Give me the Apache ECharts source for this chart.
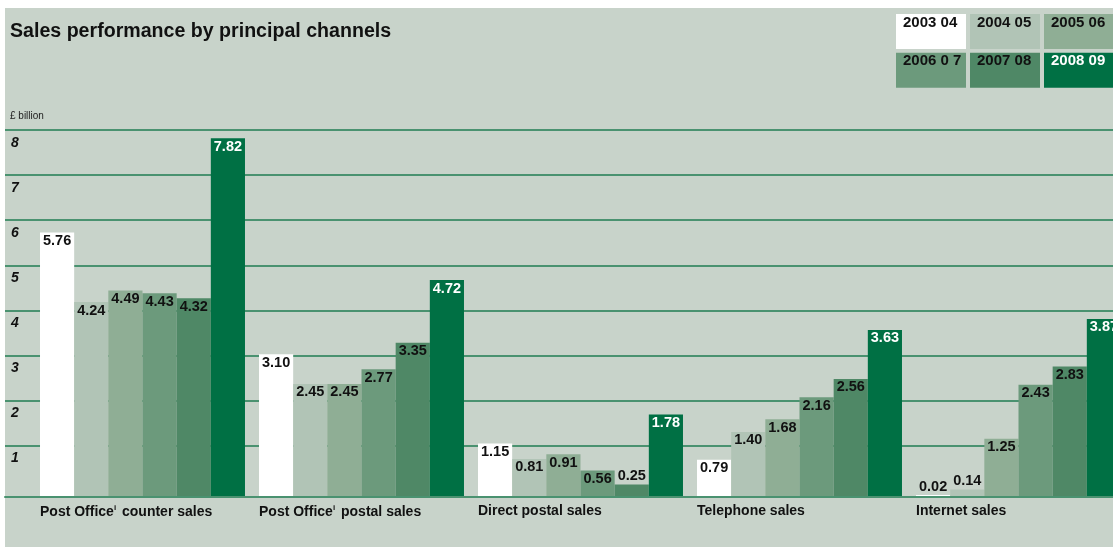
<!DOCTYPE html>
<html>
<head>
<meta charset="utf-8">
<script src="https://cdn.jsdelivr.net/npm/echarts@6/dist/echarts.min.js"></script>
<style>
  html, body { margin: 0; padding: 0; background: #ffffff; overflow: hidden; width: 1113px; height: 547px; }
  #panel { position: absolute; left: 5px; top: 8px; right: 0; bottom: 0; background: #c8d3ca; }
  #chart { position: absolute; left: 0; top: 0; width: 1140px; height: 547px; }
</style>
</head>
<body>
<div id="panel"></div>
<div id="chart"></div>
<script>
// ---- data ----
const categories = ['Post Office counter sales', 'Post Office postal sales', 'Direct postal sales', 'Telephone sales', 'Internet sales'];
const years = ['2003 04', '2004 05', '2005 06', '2006 0 7', '2007 08', '2008 09'];
const sales2003 = [5.76, 3.10, 1.15, 0.79, 0.02];
const sales2004 = [4.24, 2.45, 0.81, 1.40, 0.14];
const sales2005 = [4.49, 2.45, 0.91, 1.68, 1.25];
const sales2006 = [4.43, 2.77, 0.56, 2.16, 2.43];
const sales2007 = [4.32, 3.35, 0.25, 2.56, 2.83];
const sales2008 = [7.82, 4.72, 1.78, 3.63, 3.87];
const yTicks = [0, 1, 2, 3, 4, 5, 6, 7, 8];

// ---- styling ----
const seriesValues = [sales2003, sales2004, sales2005, sales2006, sales2007, sales2008];
const colors = ['#ffffff', '#b1c4b6', '#8fae95', '#6c9a7c', '#4f8866', '#007044'];
const labelColors = ['#111', '#111', '#111', '#111', '#111', '#ffffff'];
const gridColor = '#4a9270';
const FONT = '"Liberation Sans", Arial, sans-serif';

const chart = echarts.init(document.getElementById('chart'), null, { renderer: 'canvas' });

const series = seriesValues.map((vals, i) => ({
  name: years[i],
  type: 'bar',
  xAxisIndex: 1,
  yAxisIndex: 1,
  barGap: '0%',
  barCategoryGap: '6.4%',
  itemStyle: { color: colors[i] },
  label: {
    show: true,
    position: 'insideTop',
    distance: 1,
    color: labelColors[i],
    fontFamily: FONT,
    fontWeight: 'bold',
    fontSize: 14.5,
    formatter: p => p.value.toFixed(2)
  },
  data: vals.map(v => v < 0.4 ? { value: v, label: { position: 'top', distance: 1 } } : v),
  z: 3
}));

// legend drawn as boxes with text inside
const legendX0 = 896, legendY0 = 14, legendW = 70, legendH = 35, legendDX = 74, legendDY = 38.7;
const legendGraphics = years.map((y, i) => {
  const col = i % 3, row = Math.floor(i / 3);
  const x = legendX0 + col * legendDX, yy = legendY0 + row * legendDY;
  return {
    type: 'group',
    left: x, top: yy,
    children: [
      { type: 'rect', shape: { x: 0, y: 0, width: legendW, height: legendH }, style: { fill: colors[i] } },
      { type: 'text', x: 7, y: 1, style: { text: y, fill: labelColors[i], font: 'bold 15px ' + FONT, textVerticalAlign: 'top' } }
    ]
  };
});

const option = {
  animation: false,
  title: [
    { text: 'Sales performance by principal channels', left: 5, top: 17,
      textStyle: { fontFamily: FONT, fontWeight: 'bold', fontSize: 19.6, color: '#111' } },
    { text: '£ billion', left: 5, top: 106,
      textStyle: { fontFamily: FONT, fontWeight: 'normal', fontSize: 10, color: '#222' } }
  ],
  graphic: legendGraphics,
  grid: [
    { left: 5, right: 0, top: 130, bottom: 56.3 },   // gridlines & y labels
    { left: 33, width: 1095, top: 130, bottom: 51 },  // bars
    { left: 40, width: 1095, top: 130, bottom: 51 }   // category labels
  ],
  xAxis: [
    { gridIndex: 0, type: 'value', min: 0, max: 1, offset: 6, position: 'bottom',
      axisLine: { show: true, onZero: false, lineStyle: { color: gridColor, width: 2 } },
      axisTick: { show: false }, axisLabel: { show: false }, splitLine: { show: false } },
    { gridIndex: 1, type: 'category', data: categories,
      axisLine: { show: false }, axisTick: { show: false }, axisLabel: { show: false } },
    { gridIndex: 2, type: 'category', data: categories.concat(['']), boundaryGap: false,
      axisLine: { show: false }, axisTick: { show: false },
      axisLabel: {
        interval: 0, align: 'left', margin: 8,
        fontFamily: FONT, fontWeight: 'bold', fontSize: 14, color: '#111',
        formatter: v => v.replace('Post Office', 'Post Office{sup|i}'),
        rich: { sup: { fontSize: 8, fontWeight: 'bold', fontFamily: FONT, color: '#111', padding: [0, 2, 8, 0] } }
      } }
  ],
  yAxis: [
    { gridIndex: 0, type: 'value', min: yTicks[0], max: yTicks[yTicks.length - 1], interval: 1,
      axisLine: { show: false }, axisTick: { show: false },
      splitLine: { show: true, showMinLine: false, lineStyle: { color: gridColor, width: 2 } },
      axisLabel: { inside: true, margin: 6, showMinLabel: false, verticalAlign: 'top', padding: [6, 0, 0, 0],
        fontFamily: FONT, fontWeight: 'bold', fontStyle: 'italic', fontSize: 14, color: '#111' } },
    { gridIndex: 1, type: 'value', min: 0, max: 8, show: false, splitLine: { show: false } },
    { gridIndex: 2, type: 'value', min: 0, max: 8, show: false, splitLine: { show: false } }
  ],
  series: series
};

chart.setOption(option);
</script>
</body>
</html>
